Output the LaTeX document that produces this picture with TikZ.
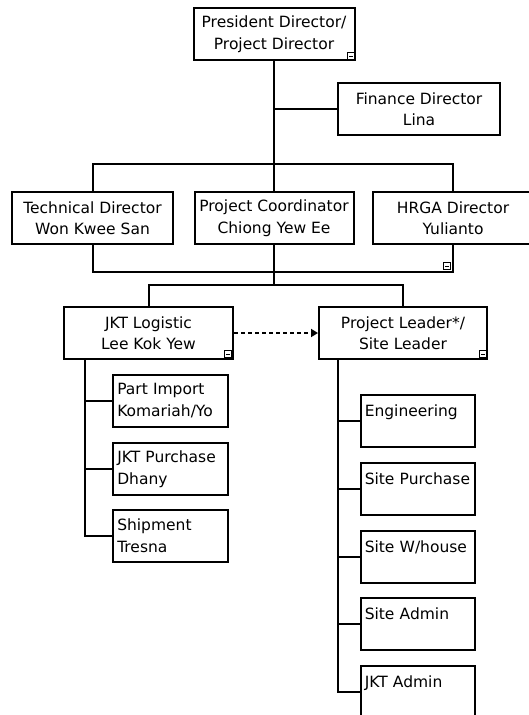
\documentclass[tikz,border=0pt]{standalone}
\usepackage{fontspec}
\setmainfont{DejaVu Sans}
\usetikzlibrary{arrows.meta}

\begin{document}
\begin{tikzpicture}[x=1pt,y=-1pt,
    box/.style={draw,line width=2pt,align=center,minimum height=52pt,inner sep=2pt,
        font=\fontsize{15.5}{21.5}\selectfont},
    sub/.style={box,align=left,text width=106.5pt,inner xsep=4.2pt},
    link/.style={line width=2pt},
    collapse/.style={draw,line width=0.8pt,minimum size=7pt,inner sep=0pt,fill=white,
        path picture={\draw[line width=0.9pt] ([xshift=-1.8pt]path picture bounding box.center)
            -- ([xshift=1.8pt]path picture bounding box.center);}}]
    \clip (0,0) rectangle (529,715);
    % directors
    \node[box,minimum width=161pt] (pres) at (274,34) {President Director/\\Project Director};
    \node[box,minimum width=162pt] (fin) at (419,109) {Finance Director\\Lina};
    \node[box,minimum width=161pt] (tech) at (92.5,218) {Technical Director\\Won Kwee San};
    \node[box,minimum width=159pt] (coord) at (274,218) {Project Coordinator\\Chiong Yew Ee};
    \node[box,minimum width=160pt] (hrga) at (453,218) {HRGA Director\\Yulianto};
    \node[box,minimum width=169pt] (jkt) at (148.5,333) {JKT Logistic\\Lee Kok Yew};
    \node[box,minimum width=168pt] (lead) at (403,333) {Project Leader*/\\Site Leader};
    % staff
    \node[sub] (imp) at (170.5,400.5) {Part Import\\Komariah/Yo};
    \node[sub] (jpur) at (170.5,469) {JKT Purchase\\Dhany};
    \node[sub] (ship) at (170.5,535.5) {Shipment\\Tresna};
    \node[sub] (eng) at (418,421) {Engineering\\~};
    \node[sub] (spur) at (418,489) {Site Purchase\\~};
    \node[sub] (wh) at (418,557) {Site W/house\\~};
    \node[sub] (sadm) at (418,624) {Site Admin\\~};
    \node[sub] (jadm) at (418,692) {JKT Admin\\~};
    % connectors
    \coordinate (bus1) at (274,164);
    \coordinate (bus2) at (274,272);
    \coordinate (bus3) at (274,285);
    \coordinate (jktstem) at (85,359);
    \coordinate (leadstem) at (338,359);
    \draw[link] (pres.south) -- (bus1);
    \draw[link] (pres.south) |- (fin.west);
    \draw[link] (tech.north) |- (bus1) -| (hrga.north);
    \draw[link] (bus1) -- (coord.north);
    \draw[link] (tech.south) |- (bus2) -| (hrga.south);
    \draw[link] (coord.south) -- (bus2) -- (bus3);
    \draw[link] (jkt.north) |- (bus3) -| (lead.north);
    \foreach \n in {imp,jpur,ship}
        \draw[link] (jktstem) |- (\n.west);
    \foreach \n in {eng,spur,wh,sadm,jadm}
        \draw[link] (leadstem) |- (\n.west);
    \draw[link,dash pattern=on 4pt off 3pt,-{Triangle[length=7pt,width=8pt]}] (jkt.east) -- (lead.west);
    % collapse markers
    \node[collapse] (c1) at ([shift={(-4.5,-5)}]pres.south east) {};
    \node[collapse] (c2) at (447,266) {};
    \node[collapse] (c3) at ([shift={(-6,-6)}]jkt.south east) {};
    \node[collapse] (c4) at ([shift={(-5,-6)}]lead.south east) {};
\end{tikzpicture}
\end{document}
